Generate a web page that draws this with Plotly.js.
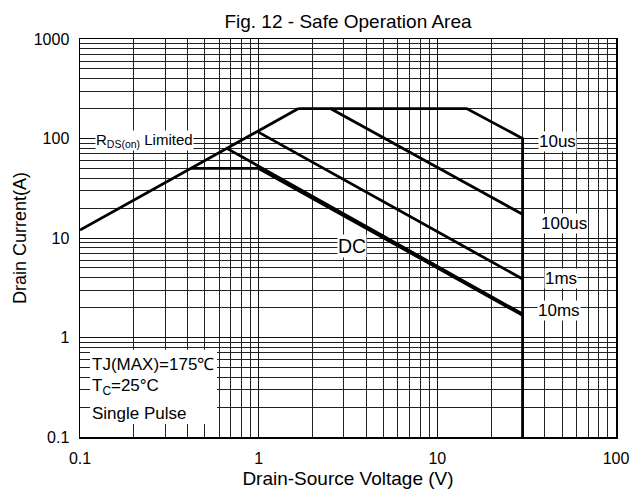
<!DOCTYPE html>
<html>
<head>
<meta charset="utf-8">
<script src="https://cdn.plot.ly/plotly-3.0.1.min.js"></script>
<style>html,body{margin:0;padding:0;background:#fff;}#chart{width:633px;height:489px;}</style>
</head>
<body>
<div id="chart"></div>
<script>
// ---- data ----
const rdsV = [0.1, 1.67];
const rdsI = [12, 200];
const us10V = [1.67, 14.6, 30, 30];
const us10I = [200, 200, 100, 0.1];
const us100V = [2.52, 30];
const us100I = [200, 17.3];
const ms1V = [0.98, 30];
const ms1I = [118, 3.87];
const ms10V = [0.66, 30];
const ms10I = [80, 1.72];
const dcV = [0.42, 1.0, 30];
const dcI = [50, 50, 1.67];

const xTickVals = [0.1, 1, 10, 100];
const xTickText = ['0.1', '1', '10', '100'];
const yTickVals = [0.1, 1, 10, 100, 1000];
const yTickText = ['0.1', '1', '10', '100', '1000'];

const labelTexts = ['R<sub>DS(on)</sub> Limited', '10us', '100us', '1ms', '10ms', 'DC'];
const noteTexts = ['TJ(MAX)=175℃', 'T<sub>C</sub>=25°C', 'Single Pulse'];

// ---- minor grid positions (2..9 in each decade) ----
function minorVals(lo, hi) {
  const out = [];
  for (let e = lo; e < hi; e++) {
    for (let d = 2; d <= 9; d++) out.push(d * Math.pow(10, e));
  }
  return out;
}

const FONT = 'Arial, "Liberation Sans", sans-serif';

function tr(x, y, name, w) {
  return {x: x, y: y, type: 'scatter', mode: 'lines', name: name,
          line: {color: '#000', width: w || 2.8}, hoverinfo: 'skip', showlegend: false};
}

const data = [
  tr(rdsV, rdsI, 'RDS(on) Limited'),
  tr(us10V, us10I, '10us'),
  tr(us100V, us100I, '100us'),
  tr(ms1V, ms1I, '1ms'),
  tr(ms10V, ms10I, '10ms'),
  tr(dcV, dcI, 'DC')
];

function lab(text, x, y, size, anchor) {
  return {text: text, xref: 'paper', yref: 'paper', x: x, y: y,
          xanchor: anchor || 'center', yanchor: 'middle', showarrow: false,
          bgcolor: '#fff', borderpad: 0,
          font: {family: FONT, size: size, color: '#000'}};
}

const annotations = [
  lab(labelTexts[0], 0.028, 0.745, 15, 'left'),
  lab(labelTexts[1], 0.89, 0.742, 17),
  lab(labelTexts[2], 0.903, 0.537, 17),
  lab(labelTexts[3], 0.898, 0.399, 17),
  lab(labelTexts[4], 0.893, 0.317, 17),
  lab(labelTexts[5], 0.507, 0.481, 19.5),
  lab(noteTexts[0], 0.02, 0.181, 17, 'left'),
  lab(noteTexts[1], 0.02, 0.125, 17, 'left'),
  lab(noteTexts[2], 0.02, 0.059, 17, 'left')
];

const axisCommon = {
  type: 'log',
  showgrid: true, gridcolor: '#111', gridwidth: 1,
  showline: true, mirror: true, linecolor: '#000', linewidth: 1.5,
  zeroline: false, ticks: '', tickmode: 'array',
  tickfont: {family: FONT, size: 16, color: '#000'},
  automargin: false
};

const layout = {
  width: 633, height: 489,
  margin: {l: 80, r: 17, t: 39, b: 52},
  paper_bgcolor: '#fff', plot_bgcolor: '#fff',
  font: {family: FONT, color: '#000'},
  title: {text: 'Fig. 12 - Safe Operation Area', x: 0.5, xref: 'paper', xanchor: 'center',
          y: 0.957, yref: 'container', yanchor: 'middle',
          font: {family: FONT, size: 19, color: '#000'}},
  xaxis: Object.assign({}, axisCommon, {
    range: [-1, 2], tickvals: xTickVals, ticktext: xTickText,
    ticklabelstandoff: 6,
    minor: {tickmode: 'array', tickvals: minorVals(-1, 2), showgrid: true, gridcolor: '#222', gridwidth: 1, ticks: ''},
    title: {text: 'Drain-Source Voltage (V)', font: {family: FONT, size: 19, color: '#000'}, standoff: 8}
  }),
  yaxis: Object.assign({}, axisCommon, {
    range: [-1, 3], tickvals: yTickVals, ticktext: yTickText,
    ticklabelstandoff: 6,
    minor: {tickmode: 'array', tickvals: minorVals(-1, 3), showgrid: true, gridcolor: '#222', gridwidth: 1, ticks: ''},
    title: {text: 'Drain Current(A)', font: {family: FONT, size: 18, color: '#000'}, standoff: 2}
  }),
  shapes: [{type: 'rect', xref: 'paper', yref: 'paper', x0: 0.0187, x1: 0.2556, y0: 0.0327, y1: 0.219,
            fillcolor: '#fff', line: {width: 0}, layer: 'above'}],
  annotations: annotations,
  showlegend: false
};

Plotly.newPlot('chart', data, layout, {displayModeBar: false, staticPlot: true});
</script>
</body>
</html>
